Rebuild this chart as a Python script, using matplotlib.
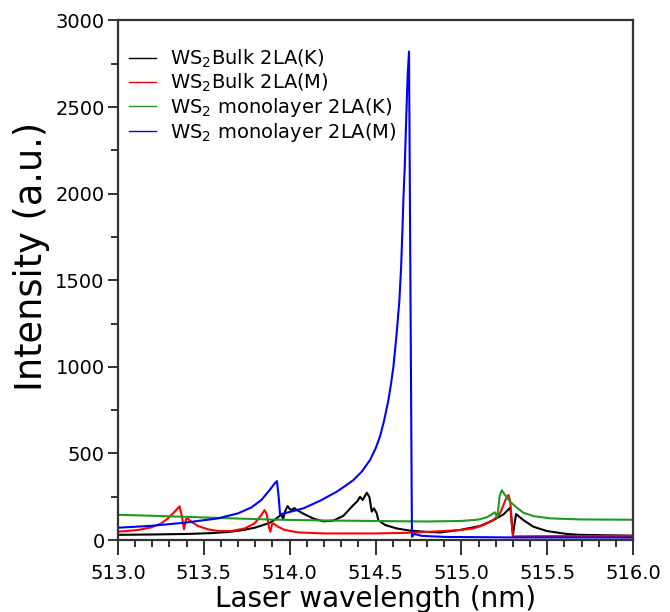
import numpy as np
import matplotlib.pyplot as plt
from matplotlib.ticker import MultipleLocator, FormatStrFormatter

# values (wavelength in nm, intensity in a.u.)
bulk_k_wl = [513.00, 513.20, 513.40, 513.55, 513.65, 513.73, 513.80, 513.85, 513.885,
             513.91, 513.94, 513.953, 513.962, 513.975, 513.988, 514.000, 514.008,
             514.027, 514.045, 514.080, 514.138, 514.196, 514.254, 514.313, 514.371,
             514.395, 514.410, 514.425, 514.449, 514.464, 514.478, 514.491, 514.507,
             514.516, 514.555, 514.623, 514.701, 514.800, 514.876, 514.992, 515.109,
             515.186, 515.245, 515.285, 515.300, 515.318, 515.361, 515.419, 515.497,
             515.614, 515.691, 516.00]
bulk_k_int = [30, 32, 35, 40, 47, 58, 72, 88, 100,
              115, 138, 145, 120, 170, 196, 180, 173,
              184, 172, 152, 124, 108, 112, 140, 202,
              225, 250, 231, 273, 250, 164, 183, 154,
              115, 87, 67, 54, 47, 44, 58, 81,
              115, 148, 188, 30, 150, 115, 77, 52,
              35, 30, 25]

bulk_m_wl = [513.000, 513.117, 513.194, 513.252, 513.291, 513.330, 513.350, 513.359,
             513.370, 513.385, 513.397, 513.405, 513.427, 513.466, 513.524, 513.583,
             513.660, 513.738, 513.796, 513.835, 513.854, 513.866, 513.880, 513.888,
             513.897, 513.905, 513.932, 513.971, 514.049, 514.200, 514.500, 514.700,
             514.900, 514.992, 515.070, 515.130, 515.186, 515.225, 515.245, 515.260,
             515.274, 515.285, 515.293, 515.300, 515.400, 516.000]
bulk_m_int = [48, 58, 73, 96, 125, 163, 185, 195,
              150, 62, 120, 125, 106, 81, 62, 52,
              52, 67, 96, 144, 173, 150, 70, 48,
              90, 96, 77, 58, 44, 38, 38, 42,
              52, 58, 67, 87, 115, 154, 202, 240,
              260, 220, 100, 21, 22, 24]

mono_k_wl = [513.0, 513.3, 513.6, 513.9, 514.2, 514.5, 514.8, 515.0, 515.1, 515.15,
             515.196, 515.209, 515.222, 515.235, 515.250, 515.283, 515.322, 515.360,
             515.420, 515.520, 515.690, 516.0]
mono_k_int = [146, 137, 127, 118, 113, 110, 107, 110, 118, 132,
              160, 128, 250, 288, 265, 221, 188, 158,
              138, 125, 119, 117]

mono_m_wl = [513.000, 513.194, 513.388, 513.583, 513.699, 513.777, 513.835, 513.883,
             513.913, 513.926, 513.936, 513.944, 513.960, 514.000, 514.080, 514.180,
             514.274, 514.320, 514.371, 514.420, 514.468, 514.500, 514.526, 514.550,
             514.575, 514.590, 514.604, 514.623, 514.639, 514.649, 514.656, 514.662,
             514.670, 514.676, 514.682, 514.688, 514.695, 514.712, 514.725, 514.770,
             514.900, 515.300, 516.000]
mono_m_int = [71, 82, 100, 125, 154, 188, 231, 288,
              327, 340, 250, 148, 152, 162, 183, 228,
              279, 310, 346, 395, 462, 528, 598, 690,
              808, 900, 1000, 1192, 1385, 1577, 1769, 1962,
              2154, 2346, 2538, 2700, 2820, 18, 35, 24,
              18, 15, 14]

labels = ["WS$_2$Bulk 2LA(K)", "WS$_2$Bulk 2LA(M)",
          "WS$_2$ monolayer 2LA(K)", "WS$_2$ monolayer 2LA(M)"]
colors = ["black", "#ff0000", "#1f9a1f", "#0000ff"]

fig = plt.figure(figsize=(6.7, 6.12), dpi=100)
ax = fig.add_axes([0.176, 0.1176, 0.769, 0.849])

series = [(bulk_k_wl, bulk_k_int), (bulk_m_wl, bulk_m_int),
          (mono_k_wl, mono_k_int), (mono_m_wl, mono_m_int)]
for (wl, inten), lab, col in zip(series, labels, colors):
    ax.plot(wl, inten, color=col, lw=1.5, label=lab)

ax.set_xlim(513.0, 516.0)
ax.set_ylim(0, 3000)
ax.xaxis.set_major_locator(MultipleLocator(0.5))
ax.xaxis.set_minor_locator(MultipleLocator(0.1))
ax.xaxis.set_major_formatter(FormatStrFormatter("%.1f"))
ax.yaxis.set_major_locator(MultipleLocator(500))
ax.yaxis.set_minor_locator(MultipleLocator(250))

ax.tick_params(which="both", direction="out", top=False, right=False,
               width=1.3, color="#222222", labelsize=14)
ax.tick_params(axis="x", which="major", length=11, pad=6)
ax.tick_params(axis="x", which="minor", length=5)
ax.tick_params(axis="y", which="major", length=7.5, pad=2)
ax.tick_params(axis="y", which="minor", length=5)
for sp in ax.spines.values():
    sp.set_linewidth(1.6)
    sp.set_color("#333333")

ax.set_xlabel("Laser wavelength (nm)", fontsize=20, labelpad=2)
ax.set_ylabel("Intensity (a.u.)", fontsize=26.5)
ax.yaxis.set_label_coords(-0.132, 0.546)

leg = ax.legend(loc="upper left", frameon=False, fontsize=14, handlelength=1.4,
                handletextpad=0.75, labelspacing=0.1, borderaxespad=0.15,
                bbox_to_anchor=(0.0, 0.968))
for h in leg.get_lines():
    h.set_linewidth(1.0)

fig.savefig("out.png", dpi=100)
